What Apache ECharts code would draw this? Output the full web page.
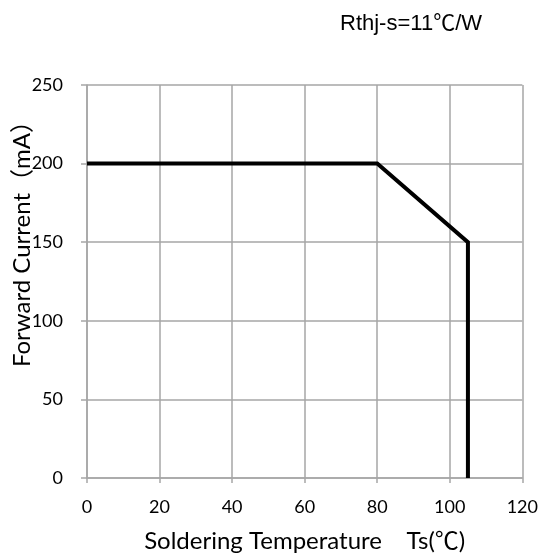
<!DOCTYPE html>
<html>
<head>
<meta charset="utf-8">
<script src="https://cdn.jsdelivr.net/npm/echarts@6/dist/echarts.min.js"></script>
<style>html,body{margin:0;padding:0;background:#fff}#c{width:541px;height:559px}</style>
</head>
<body>
<div id="c"></div>
<script>
const xValues = [0, 80, 105, 105];
const yValues = [200, 200, 150, 0];
const xTicks = [0, 20, 40, 60, 80, 100, 120];
const yTicks = [0, 50, 100, 150, 200, 250];
const titleText = 'Rthj-s=11℃/W';
const xName = 'Soldering Temperature    Ts(℃)';
const yName = 'Forward Current（mA）';

const chart = echarts.init(document.getElementById('c'));
const gridColor = '#a6a6a6';
const labelFont = 'Lato, "Noto Sans CJK SC", sans-serif';
chart.setOption({
  animation: false,
  title: {
    text: titleText, left: 335, top: 8,
    textStyle: {fontFamily: '"Liberation Sans", "Noto Sans CJK SC", sans-serif', fontSize: 22, fontWeight: 'normal', color: '#000'}
  },
  grid: {left: 87, right: 18, top: 85, bottom: 81},
  xAxis: {
    type: 'value', min: xTicks[0], max: xTicks[xTicks.length - 1], interval: 20,
    name: xName, nameLocation: 'middle', nameGap: 51,
    nameTextStyle: {fontFamily: labelFont, fontSize: 24, color: '#000'},
    axisLine: {show: true, lineStyle: {color: gridColor, width: 1.5}},
    axisTick: {show: true, length: 5, lineStyle: {color: gridColor, width: 1.5}},
    axisLabel: {margin: 20, fontFamily: labelFont, fontSize: 18, color: '#000'},
    splitLine: {show: true, lineStyle: {color: gridColor, width: 1.5}}
  },
  yAxis: {
    type: 'value', min: yTicks[0], max: yTicks[yTicks.length - 1], interval: 50,
    axisLine: {show: true, lineStyle: {color: gridColor, width: 1.5}},
    axisTick: {show: true, length: 6, lineStyle: {color: gridColor, width: 1.5}},
    axisLabel: {margin: 24, fontFamily: labelFont, fontSize: 18, color: '#000'},
    splitLine: {show: true, lineStyle: {color: gridColor, width: 1.5}}
  },
  graphic: [{
    type: 'text', x: 22, y: 238, rotation: Math.PI / 2,
    style: {text: yName, fontFamily: labelFont, fontSize: 24, fill: '#000', align: 'center', verticalAlign: 'middle'}
  }],
  series: [{
    type: 'line', symbol: 'none',
    data: xValues.map((x, i) => [x, yValues[i]]),
    lineStyle: {color: '#000', width: 4, join: 'miter'}
  }]
});
</script>
</body>
</html>
